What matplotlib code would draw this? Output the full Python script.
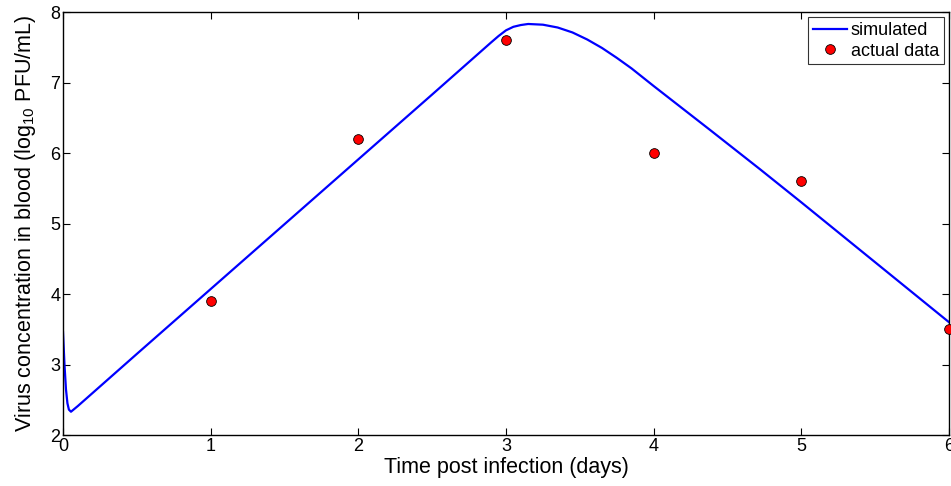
import matplotlib
matplotlib.use("Agg")
import matplotlib.pyplot as plt

plt.rcParams['font.family'] = ['Liberation Sans', 'DejaVu Sans']
plt.rcParams['mathtext.fontset'] = 'custom'
plt.rcParams['mathtext.rm'] = 'Liberation Sans'
plt.rcParams['mathtext.it'] = 'Liberation Sans:italic'

# simulated curve
sim_t = [0.0, 0.01, 0.02, 0.03, 0.04, 0.054, 0.1, 0.3, 0.5, 1.0, 1.5, 2.0,
         2.5, 2.9, 2.95, 3.0, 3.05, 3.1, 3.15, 3.25, 3.35, 3.45, 3.55, 3.65,
         3.75, 3.85, 4.0, 4.38, 4.72, 5.0, 5.4, 6.0]
sim_v = [3.46, 3.0, 2.65, 2.45, 2.36, 2.33, 2.41, 2.78, 3.15, 4.07, 4.99, 5.91,
         6.83, 7.57, 7.66, 7.74, 7.79, 7.815, 7.83, 7.82, 7.78, 7.71, 7.61, 7.49,
         7.35, 7.20, 6.95, 6.33, 5.77, 5.30, 4.62, 3.60]

# actual data
data_t = [1, 2, 3, 4, 5, 6]
data_v = [3.9, 6.2, 7.6, 6.0, 5.6, 3.5]

fig = plt.figure(figsize=(9.51, 4.86), dpi=100)
ax = fig.add_axes([63/951, 1-435/486, (949-63)/951, (435-12)/486])

ax.plot(sim_t, sim_v, color='#0000ff', lw=1.6, label='simulated', zorder=2)
ax.plot(data_t, data_v, 'o', color='red', mec='black', mew=0.6, ms=7,
        label='actual data', zorder=3, clip_on=False)

ax.set_xlim(0, 6)
ax.set_ylim(2, 8)
ax.set_xticks(range(0, 7))
ax.set_yticks(range(2, 9))
ax.tick_params(direction='in', top=True, right=True, length=5, width=0.8,
               labelsize=13, pad=2)
for s in ax.spines.values():
    s.set_linewidth(1.0)

ax.set_xlabel('Time post infection (days)', fontsize=15.5, labelpad=1.5)
ax.set_ylabel(r'Virus concentration in blood (log$_{10}$ PFU/mL)', fontsize=15.5, labelpad=8.5)

leg = ax.legend(loc='upper right', fontsize=13, frameon=True, fancybox=False,
                edgecolor='black', borderaxespad=0.3, handlelength=1.9,
                handletextpad=0.2, borderpad=0.25, labelspacing=0.2)
leg.get_frame().set_linewidth(0.8)

fig.savefig('out.png', dpi=100)
